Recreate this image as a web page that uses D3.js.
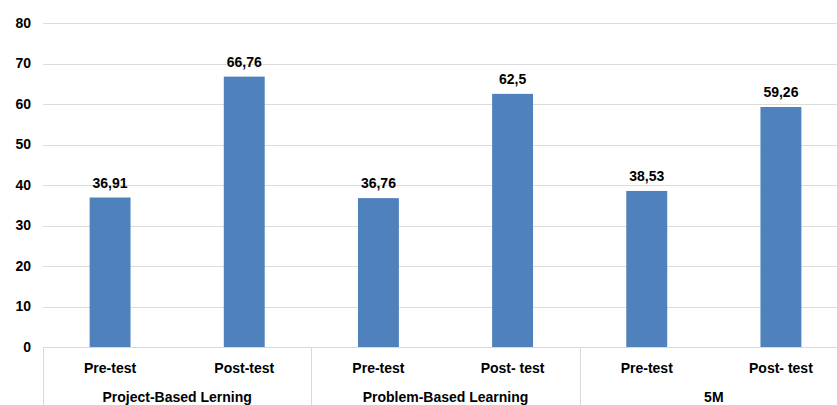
<!DOCTYPE html>
<html>
<head>
<meta charset="utf-8">
<script src="https://cdn.jsdelivr.net/npm/d3@7"></script>
<style>
  html, body { margin: 0; padding: 0; background: #ffffff; overflow: hidden; }
  svg { display: block; }
  text { font-family: "Liberation Sans", Arial, sans-serif; font-weight: bold; fill: #000; }
</style>
</head>
<body>
<svg id="chart" width="837" height="405"></svg>
<script>
// ---- data ----
const groups = ["Project-Based Lerning", "Problem-Based Learning", "5M"];
const subLabels = [["Pre-test", "Post-test"], ["Pre-test", "Post- test"], ["Pre-test", "Post- test"]];
const values = [36.91, 66.76, 36.76, 62.5, 38.53, 59.26];
const valueLabels = ["36,91", "66,76", "36,76", "62,5", "38,53", "59,26"];
const yTicks = [0, 10, 20, 30, 40, 50, 60, 70, 80];

(function () {
  const W = 837, H = 405;
  const mLeft = 43, mRight = 848, mTop = 23, mBottom = 347;
  const svg = d3.select("#chart");

  const items = [];
  groups.forEach((g, gi) => subLabels[gi].forEach((s, si) => {
    const i = gi * 2 + si;
    items.push({ id: i, group: g, gi, label: s, value: values[i], vlabel: valueLabels[i] });
  }));

  const x = d3.scaleBand().domain(items.map(d => d.id)).range([mLeft, mRight])
    .paddingInner(0.695).paddingOuter(0.3475);
  const xGroup = d3.scaleBand().domain(groups).range([mLeft, mRight]).padding(0);
  const y = d3.scaleLinear().domain([0, 80]).range([mBottom, mTop]);

  // gridlines
  svg.append("g").selectAll("line").data(yTicks.filter(t => t > 0)).join("line")
    .attr("x1", mLeft).attr("x2", W)
    .attr("y1", d => Math.round(y(d)) + 0.5).attr("y2", d => Math.round(y(d)) + 0.5)
    .attr("stroke", "#dcdcdc").attr("stroke-width", 1);

  // y axis
  const yAxis = svg.append("g").attr("transform", `translate(${mLeft},0)`)
    .call(d3.axisLeft(y).tickValues(yTicks).tickSize(0).tickPadding(12).tickFormat(d3.format("d")));
  yAxis.select(".domain").remove();
  yAxis.selectAll("text").attr("fill", "#000")
    .style("font-size", "14px").style("font-family", "Liberation Sans, Arial, sans-serif").style("font-weight", "bold");

  // bars
  svg.append("g").selectAll("rect").data(items).join("rect")
    .attr("x", d => x(d.id)).attr("width", x.bandwidth())
    .attr("y", d => y(d.value)).attr("height", d => y(0) - y(d.value))
    .attr("fill", "#4F81BD");

  // value labels
  svg.append("g").selectAll("text").data(items).join("text")
    .attr("x", d => x(d.id) + x.bandwidth() / 2)
    .attr("y", d => y(d.value) - 10)
    .attr("text-anchor", "middle").style("font-size", "14px")
    .text(d => d.vlabel);

  // baseline
  svg.append("line").attr("x1", mLeft).attr("x2", W)
    .attr("y1", Math.round(y(0)) + 0.5).attr("y2", Math.round(y(0)) + 0.5)
    .attr("stroke", "#d9d9d9").attr("stroke-width", 1);

  // group separators
  const seps = groups.map(g => xGroup(g)).concat([mRight]);
  svg.append("g").selectAll("line").data(seps).join("line")
    .attr("x1", d => Math.round(d) + 0.5).attr("x2", d => Math.round(d) + 0.5)
    .attr("y1", y(0)).attr("y2", H)
    .attr("stroke", "#d9d9d9").attr("stroke-width", 1);

  // category labels
  svg.append("g").selectAll("text").data(items).join("text")
    .attr("x", d => x(d.id) + x.bandwidth() / 2)
    .attr("y", 373)
    .attr("text-anchor", "middle").style("font-size", "14px")
    .text(d => d.label);

  // group labels
  svg.append("g").selectAll("text").data(groups).join("text")
    .attr("x", d => xGroup(d) + xGroup.bandwidth() / 2)
    .attr("y", 402)
    .attr("text-anchor", "middle").style("font-size", "14px")
    .text(d => d);
})();
</script>
</body>
</html>
